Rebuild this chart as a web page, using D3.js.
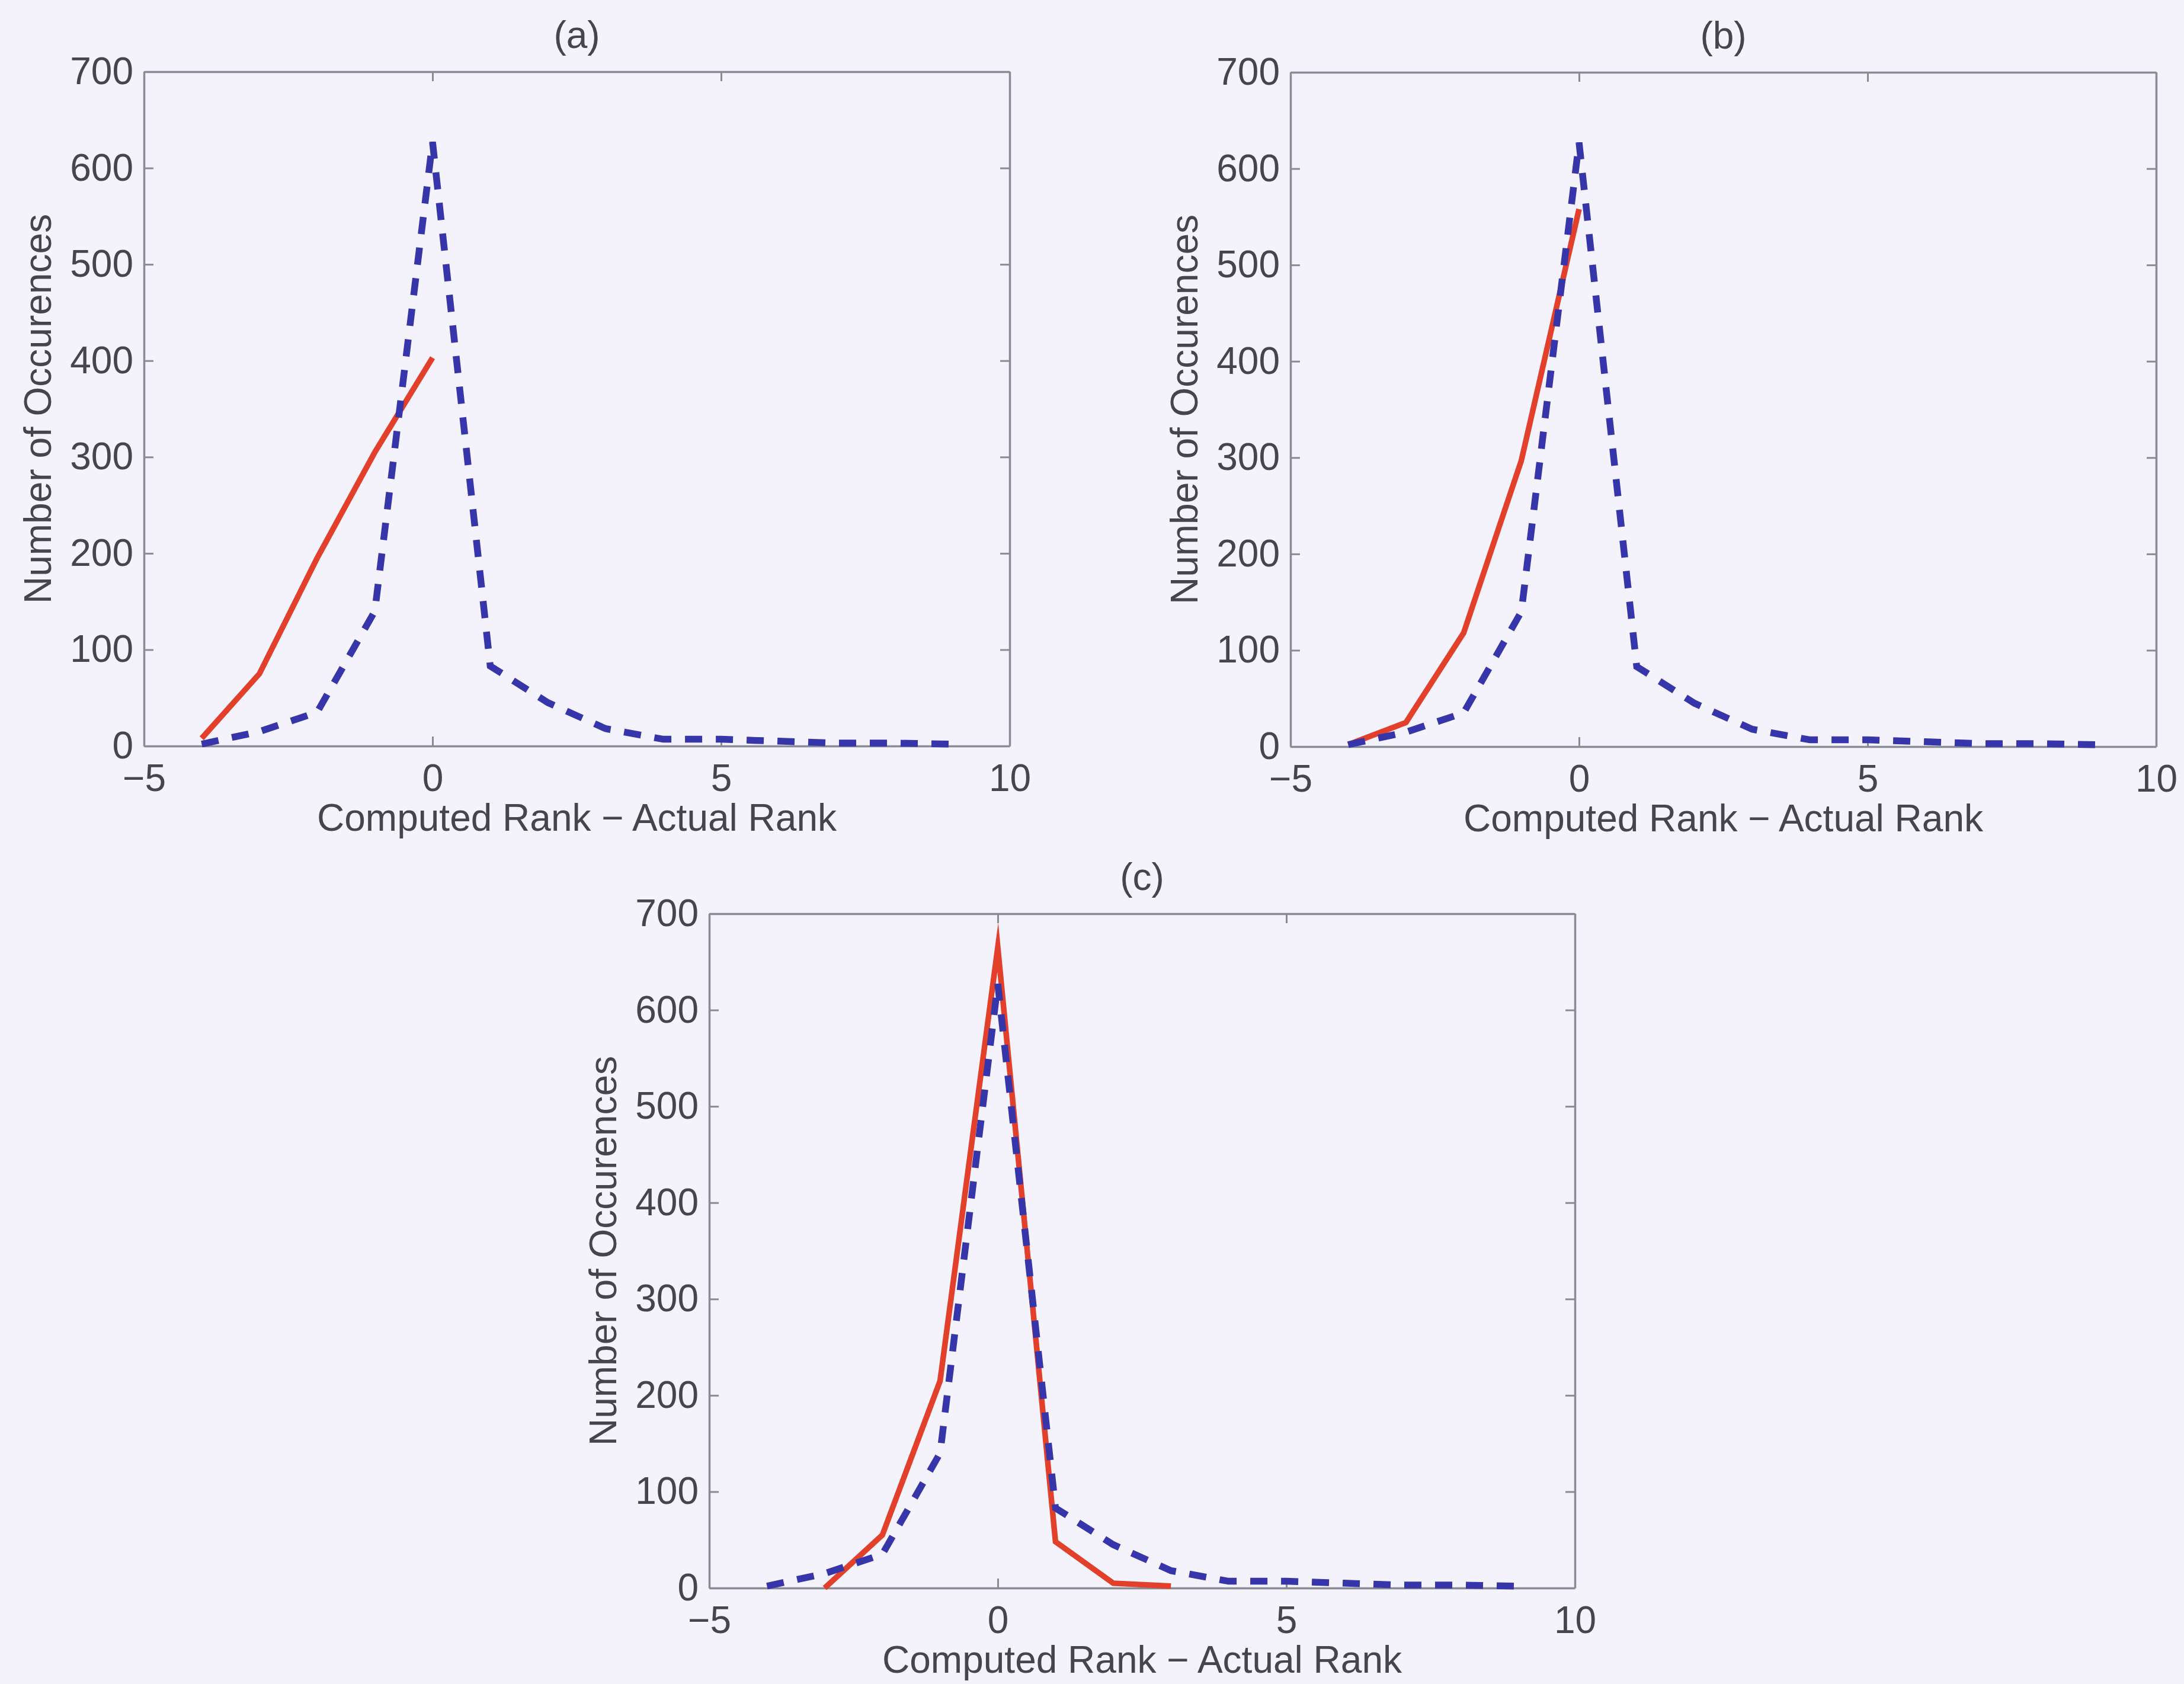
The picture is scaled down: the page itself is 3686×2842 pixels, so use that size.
<!DOCTYPE html>
<html>
<head>
<meta charset="utf-8">
<script src="https://cdn.jsdelivr.net/npm/d3@7"></script>
<style>
  html, body { margin: 0; padding: 0; background: #f4f3fb; }
  svg { display: block; }
  text { font-family: "Liberation Sans", Arial, Helvetica, sans-serif; }
</style>
</head>
<body>
<svg id="fig" width="3686" height="2842"></svg>
<script>
// Rank error offsets (computed rank minus actual rank)
const ranks = [-4, -3, -2, -1, 0, 1, 2, 3, 4, 5, 6, 7, 8, 9];

// Reference distribution (dashed blue), identical in every panel
const baselineCounts = [2, 15, 35, 140, 627, 83, 45, 18, 7, 7, 5, 3, 3, 2];

// Approximate method results (solid red) for each panel
const ranksA = [-4, -3, -2, -1, 0];
const countsA = [8, 75, 195, 305, 403];

const ranksB = [-4, -3, -2, -1, 0];
const countsB = [2, 25, 118, 297, 558];

const ranksC = [-3, -2, -1, 0, 1, 2, 3];
const countsC = [0, 55, 215, 665, 48, 5, 2];

// Axis settings shared by all panels
const xDomain = [-5, 10];
const yDomain = [0, 700];
const xTicks = [-5, 0, 5, 10];
const yTicks = [0, 100, 200, 300, 400, 500, 600, 700];

const panelTitles = ["(a)", "(b)", "(c)"];
const xLabel = "Computed Rank \u2212 Actual Rank";
const yLabel = "Number of Occurences";

const panels = [
  { title: panelTitles[0], left: 243,  top: 121,  redX: ranksA, redY: countsA },
  { title: panelTitles[1], left: 2178, top: 122,  redX: ranksB, redY: countsB },
  { title: panelTitles[2], left: 1197, top: 1542, redX: ranksC, redY: countsC }
];

const W = 1461, H = 1138;
const FONT = 64;
const axisColor = "#8b8b98";
const textColor = "#45454d";
const red = "#e2402a";
const blue = "#3636aa";

const svg = d3.select("#fig");
svg.append("rect").attr("width", 3686).attr("height", 2842).attr("fill", "#f4f3fb");

function styleAxis(g) {
  g.selectAll("path.domain").attr("stroke", axisColor).attr("stroke-width", 3.5);
  g.selectAll(".tick line").attr("stroke", axisColor).attr("stroke-width", 3);
  g.selectAll(".tick text")
    .attr("fill", textColor)
    .attr("font-size", null)
    .style("font-size", FONT + "px")
    .style("font-family", "'Liberation Sans', Arial, Helvetica, sans-serif");
}

panels.forEach(p => {
  const x = d3.scaleLinear().domain(xDomain).range([0, W]);
  const y = d3.scaleLinear().domain(yDomain).range([H, 0]);

  const g = svg.append("g").attr("transform", `translate(${p.left},${p.top})`);

  // Box with inward ticks on all four sides
  g.append("g").attr("transform", `translate(0,${H})`)
    .call(d3.axisBottom(x).tickValues(xTicks).tickSizeInner(-16).tickSizeOuter(0).tickPadding(31))
    .call(styleAxis);
  g.append("g")
    .call(d3.axisTop(x).tickValues(xTicks).tickSizeInner(-16).tickSizeOuter(0).tickFormat(""))
    .call(styleAxis);
  g.append("g")
    .call(d3.axisLeft(y).tickValues(yTicks).tickSizeInner(-16).tickSizeOuter(0).tickPadding(18))
    .call(styleAxis);
  g.append("g").attr("transform", `translate(${W},0)`)
    .call(d3.axisRight(y).tickValues(yTicks).tickSizeInner(-16).tickSizeOuter(0).tickFormat(""))
    .call(styleAxis);

  // Titles and axis labels
  g.append("text")
    .attr("x", W / 2).attr("y", -40)
    .attr("text-anchor", "middle")
    .attr("fill", textColor)
    .style("font-size", FONT + "px")
    .text(p.title);

  g.append("text")
    .attr("x", W / 2).attr("y", H + 143)
    .attr("text-anchor", "middle")
    .attr("fill", textColor)
    .style("font-size", FONT + "px")
    .text(xLabel);

  g.append("text")
    .attr("transform", `translate(-157,${H / 2}) rotate(-90)`)
    .attr("text-anchor", "middle")
    .attr("fill", textColor)
    .style("font-size", FONT + "px")
    .text(yLabel);

  const line = d3.line().x(d => x(d[0])).y(d => y(d[1]));

  // Solid red series
  g.append("path")
    .datum(d3.zip(p.redX, p.redY))
    .attr("d", line)
    .attr("fill", "none")
    .attr("stroke", red)
    .attr("stroke-width", 9.5)
    .attr("stroke-linejoin", "miter")
    .attr("stroke-miterlimit", 10);

  // Dashed blue series on top
  g.append("path")
    .datum(d3.zip(ranks, baselineCounts))
    .attr("d", line)
    .attr("fill", "none")
    .attr("stroke", blue)
    .attr("stroke-width", 11.5)
    .attr("stroke-dasharray", "29,23")
    .attr("stroke-linejoin", "miter");
});
</script>
</body>
</html>
